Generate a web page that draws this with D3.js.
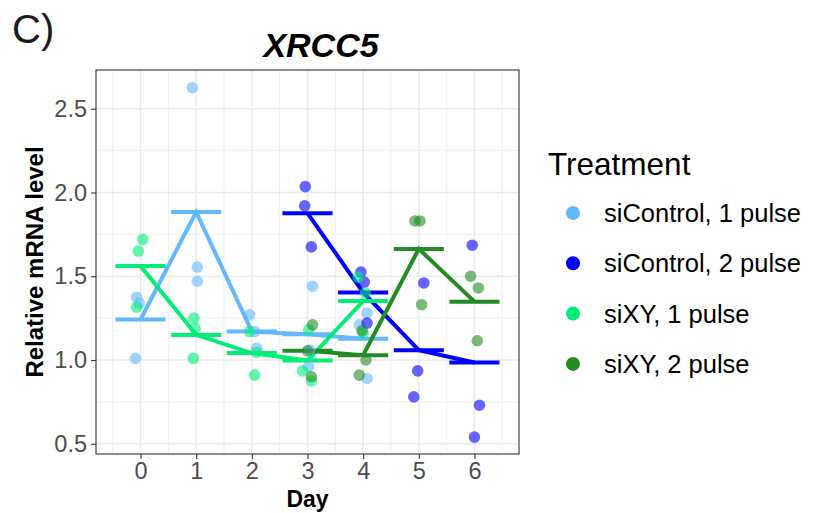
<!DOCTYPE html>
<html>
<head>
<meta charset="utf-8">
<script src="https://cdn.jsdelivr.net/npm/d3@7"></script>
<style>
  body { margin: 0; background: #fff; }
  text { font-family: "Liberation Sans", Arial, Helvetica, sans-serif; }
</style>
</head>
<body>
<div id="chart"></div>
<script>
// treatments and their colours
const treatments = ["siControl, 1 pulse", "siControl, 2 pulse", "siXY, 1 pulse", "siXY, 2 pulse"];
const colors = ["#63B8FF", "#0000FF", "#00EE76", "#228B22"];

const dayTicks = [0, 1, 2, 3, 4, 5, 6];
const yTicks = [0.5, 1.0, 1.5, 2.0, 2.5];

// replicate measurements (day, value, small horizontal jitter in days)
const ctrl1Day = [0, 0, 0, 1, 1, 1, 2, 2, 2, 3, 3, 3, 4, 4, 4];
const ctrl1Val = [1.375, 1.34, 1.01, 2.625, 1.555, 1.47, 1.27, 1.17, 1.07, 1.44, 1.06, 0.96, 1.28, 1.21, 0.89];
const ctrl1Jit = [-0.07, -0.02, -0.09, -0.07, 0.02, 0.02, -0.04, 0.05, 0.09, 0.09, 0.04, 0.02, 0.07, -0.07, 0.07];

const ctrl2Day = [3, 3, 3, 4, 4, 4, 5, 5, 5, 6, 6, 6];
const ctrl2Val = [2.035, 1.92, 1.675, 1.525, 1.465, 1.22, 1.46, 0.935, 0.78, 1.685, 0.73, 0.54];
const ctrl2Jit = [-0.04, -0.05, 0.07, -0.04, 0.02, 0.07, 0.09, -0.02, -0.09, -0.04, 0.09, 0];

const xy1Day = [0, 0, 0, 1, 1, 1, 2, 2, 2, 3, 3, 3, 4, 4, 4];
const xy1Val = [1.72, 1.65, 1.315, 1.25, 1.19, 1.01, 1.17, 1.045, 0.91, 1.18, 0.935, 0.875, 1.495, 1.40, 1.16];
const xy1Jit = [0.04, -0.04, -0.07, -0.04, -0.02, -0.05, -0.04, 0.09, 0.05, 0.02, -0.09, 0.07, -0.09, 0.04, 0];

const xy2Day = [3, 3, 3, 4, 4, 4, 5, 5, 5, 6, 6, 6];
const xy2Val = [1.21, 1.055, 0.90, 1.175, 1.0, 0.91, 1.83, 1.83, 1.33, 1.50, 1.43, 1.115];
const xy2Jit = [0.09, 0, 0.07, -0.02, 0.05, -0.07, -0.07, 0.02, 0.05, -0.07, 0.07, 0.05];

const seriesDays = [ctrl1Day, ctrl2Day, xy1Day, xy2Day];
const seriesVals = [ctrl1Val, ctrl2Val, xy1Val, xy2Val];
const seriesJits = [ctrl1Jit, ctrl2Jit, xy1Jit, xy2Jit];

const W = 820, H = 513;
const panel = {left: 96, right: 519, top: 70, bottom: 454};

const svg = d3.select("#chart").append("svg")
    .attr("width", W)
    .attr("height", H);

const x = d3.scaleLinear().domain([-0.8, 6.8]).range([panel.left, panel.right]);
const y = d3.scaleLinear().domain([0.439, 2.731]).range([panel.bottom, panel.top]);

// panel grid
const grid = svg.append("g");
const minorX = d3.range(-0.5, 7, 1);
const minorY = [0.75, 1.25, 1.75, 2.25];
grid.selectAll(".mx").data(minorX).enter().append("line")
    .attr("x1", d => x(d)).attr("x2", d => x(d))
    .attr("y1", panel.top).attr("y2", panel.bottom)
    .attr("stroke", "#EFEFEF").attr("stroke-width", 1);
grid.selectAll(".my").data(minorY).enter().append("line")
    .attr("x1", panel.left).attr("x2", panel.right)
    .attr("y1", d => y(d)).attr("y2", d => y(d))
    .attr("stroke", "#EFEFEF").attr("stroke-width", 1);
grid.selectAll(".gx").data(dayTicks).enter().append("line")
    .attr("x1", d => x(d)).attr("x2", d => x(d))
    .attr("y1", panel.top).attr("y2", panel.bottom)
    .attr("stroke", "#EBEBEB").attr("stroke-width", 1.6);
grid.selectAll(".gy").data(yTicks).enter().append("line")
    .attr("x1", panel.left).attr("x2", panel.right)
    .attr("y1", d => y(d)).attr("y2", d => y(d))
    .attr("stroke", "#EBEBEB").attr("stroke-width", 1.6);

// axes
const xAxis = svg.append("g")
    .attr("transform", "translate(0," + panel.bottom + ")")
    .call(d3.axisBottom(x).tickValues(dayTicks).tickSize(5).tickSizeOuter(0).tickPadding(3));
const yAxis = svg.append("g")
    .attr("transform", "translate(" + panel.left + ",0)")
    .call(d3.axisLeft(y).tickValues(yTicks).tickFormat(d3.format(".1f")).tickSize(5).tickSizeOuter(0).tickPadding(4));
[xAxis, yAxis].forEach(a => {
  a.select(".domain").remove();
  a.selectAll(".tick line").attr("stroke", "#333333").attr("stroke-width", 1.1);
  a.selectAll(".tick text")
      .attr("fill", "#4D4D4D")
      .style("font-size", "23.5px")
      .style("font-family", '"Liberation Sans", Arial, sans-serif');
});

// means per day for each treatment, joined by lines and marked with a bar
const marks = svg.append("g");
treatments.forEach((t, i) => {
  const means = d3.rollups(
      seriesDays[i].map((d, k) => ({day: d, v: seriesVals[i][k]})),
      g => d3.mean(g, d => d.v), d => d.day)
    .sort((a, b) => a[0] - b[0]);

  const line = d3.line().x(d => x(d[0])).y(d => y(d[1]));
  marks.append("path")
      .attr("d", line(means))
      .attr("fill", "none")
      .attr("stroke", colors[i])
      .attr("stroke-width", 4);

  marks.selectAll(".bar" + i).data(means).enter().append("line")
      .attr("x1", d => x(d[0] - 0.45)).attr("x2", d => x(d[0] + 0.45))
      .attr("y1", d => y(d[1])).attr("y2", d => y(d[1]))
      .attr("stroke", colors[i])
      .attr("stroke-width", 4);
});

// replicate points
treatments.forEach((t, i) => {
  marks.selectAll(".pt" + i).data(seriesVals[i]).enter().append("circle")
      .attr("cx", (d, k) => x(seriesDays[i][k] + seriesJits[i][k]))
      .attr("cy", d => y(d))
      .attr("r", 5.8)
      .attr("fill", colors[i])
      .attr("fill-opacity", 0.6);
});

// panel border
svg.append("rect")
    .attr("x", panel.left).attr("y", panel.top)
    .attr("width", panel.right - panel.left).attr("height", panel.bottom - panel.top)
    .attr("fill", "none").attr("stroke", "#333333").attr("stroke-width", 1.1);

// titles
svg.append("text")
    .attr("x", 12).attr("y", 43)
    .style("font-size", "40px").attr("fill", "#1a1a1a")
    .text("C)");
svg.append("text")
    .attr("x", 321).attr("y", 57)
    .attr("text-anchor", "middle")
    .style("font-size", "34px").style("font-weight", "bold").style("font-style", "italic")
    .text("XRCC5");
svg.append("text")
    .attr("x", (panel.left + panel.right) / 2).attr("y", 507)
    .attr("text-anchor", "middle")
    .style("font-size", "23px").style("font-weight", "bold")
    .text("Day");
svg.append("text")
    .attr("transform", "translate(43," + ((panel.top + panel.bottom) / 2) + ") rotate(-90)")
    .attr("text-anchor", "middle")
    .style("font-size", "24px").style("font-weight", "bold")
    .text("Relative mRNA level");

// legend
const legend = svg.append("g");
legend.append("text")
    .attr("x", 548).attr("y", 175)
    .style("font-size", "31.5px")
    .text("Treatment");
const items = legend.selectAll(".item").data(treatments).enter().append("g")
    .attr("transform", (d, i) => "translate(573," + (213 + i * 50.3) + ")");
items.append("circle").attr("r", 7).attr("fill", (d, i) => colors[i]);
items.append("text")
    .attr("x", 31).attr("dy", "0.35em")
    .style("font-size", "25.5px")
    .text(d => d);
</script>
</body>
</html>
